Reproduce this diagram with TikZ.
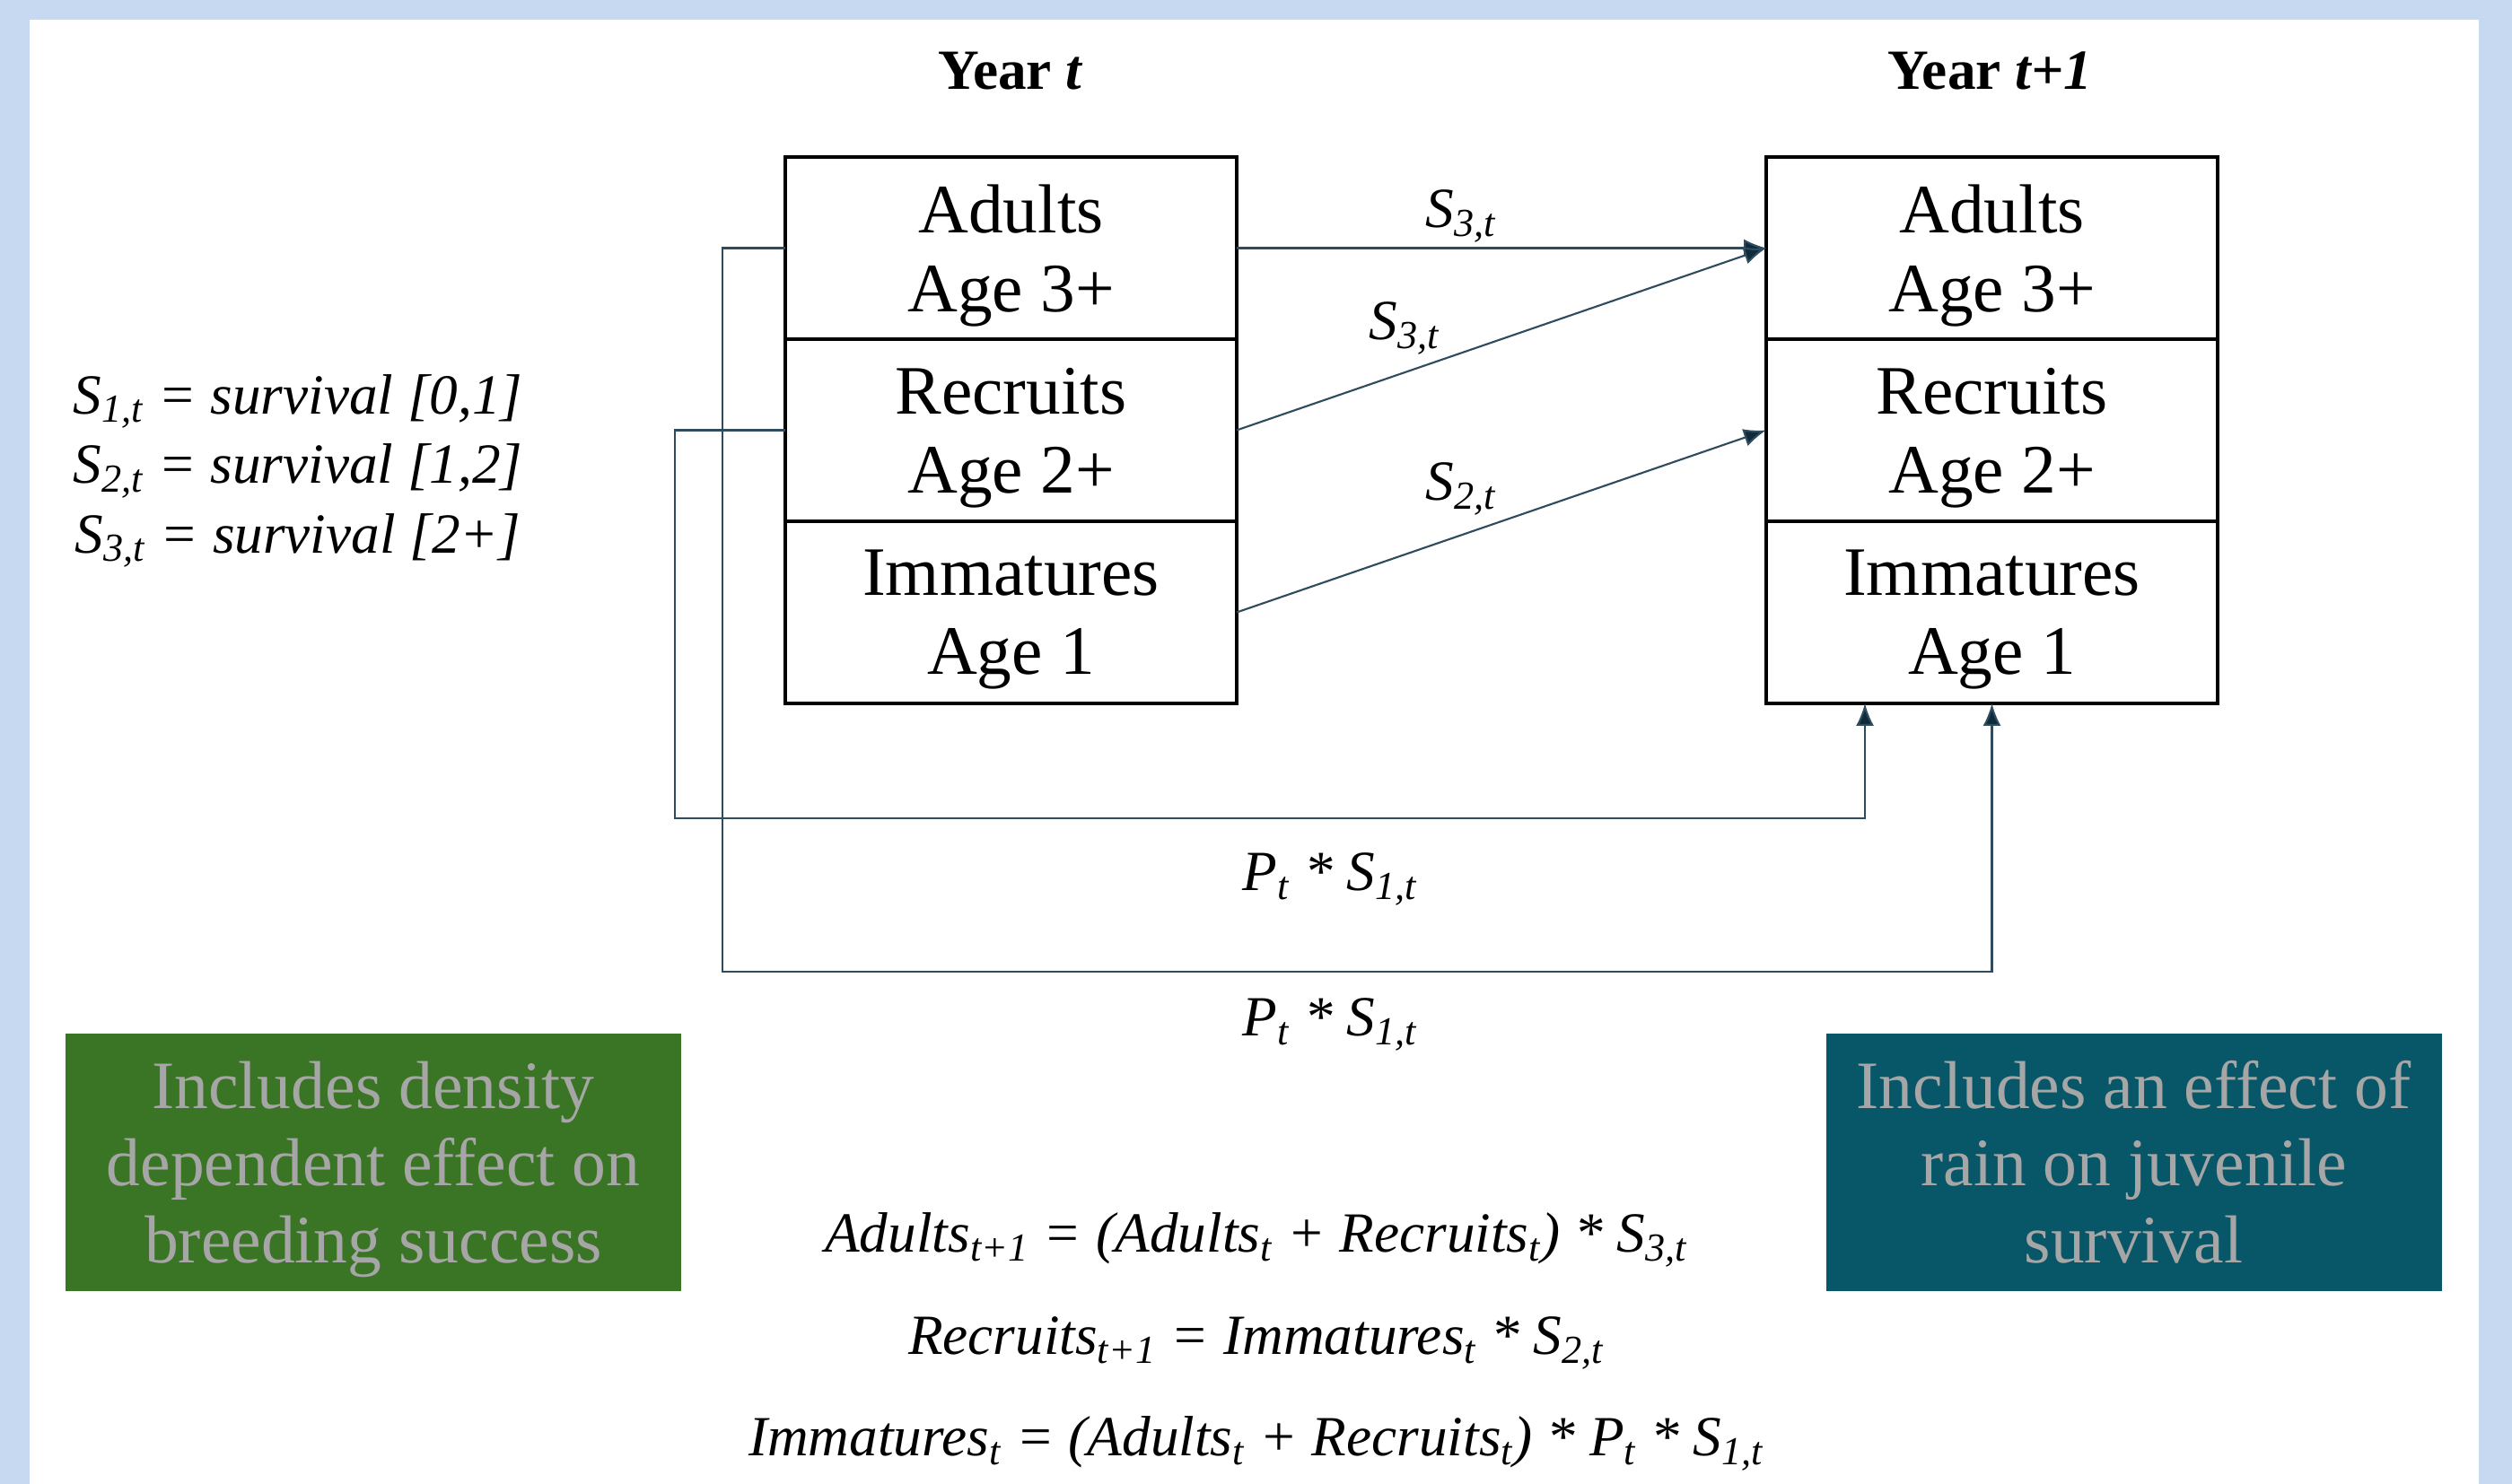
\documentclass[tikz,border=0pt]{standalone}
\usepackage{fontspec}
\setmainfont{Liberation Serif}
\usepackage{tikz}
\usetikzlibrary{arrows.meta, positioning}
\definecolor{FrameBlue}{HTML}{C6D9F0}
\definecolor{LinkBlue}{HTML}{2F4B5E}
\definecolor{TipBlue}{HTML}{0E2B3C}
\definecolor{DensGreen}{HTML}{3A7526}
\definecolor{RainTeal}{HTML}{075769}
\definecolor{NoteGrey}{HTML}{A6A6A6}
\tikzstyle{stage} = [rectangle, draw=black, line width=1.1pt, minimum width=5.03cm,
minimum height=2.03cm, inner sep=0pt, outer sep=0pt, align=center,
font=\fontsize{22}{25}\selectfont]
\tikzstyle{link} = [draw=LinkBlue, line width=0.6pt,
-{Latex[length=2.5mm,width=2mm,fill=TipBlue]}]
\tikzstyle{note} = [rectangle, minimum width=6.86cm, minimum height=2.87cm,
align=center, text=NoteGrey, font=\fontsize{21.5}{24.5}\selectfont]
\tikzstyle{formula} = [align=center, font=\fontsize{18}{22}\selectfont\itshape]

\begin{document}
\begin{tikzpicture}
   \useasboundingbox (0,0) rectangle (27.99,16.54);
   \fill[FrameBlue] (0,0) rectangle (27.99,16.54);
   \fill[white] (0.33,0) rectangle (27.62,16.32);
   % year t
   \node[font=\fontsize{18}{21}\selectfont\bfseries] (yeart) at (11.26,15.75) {Year \textit{t}};
   \node[stage] (adults) at (11.265,13.775) {Adults \\ \smash{Age 3+}};
   \node[stage,below=0pt of adults] (recruits) {Recruits \\ \smash{Age 2+}};
   \node[stage,below=0pt of recruits] (immatures) {Immatures \\ \smash{Age 1}};
   % year t+1
   \node[font=\fontsize{18}{21}\selectfont\bfseries] (yearnext) at (22.17,15.75) {Year \textit{t+1}};
   \node[stage] (adultsnext) at (22.195,13.775) {Adults \\ \smash{Age 3+}};
   \node[stage,below=0pt of adultsnext] (recruitsnext) {Recruits \\ \smash{Age 2+}};
   \node[stage,below=0pt of recruitsnext] (immaturesnext) {Immatures \\ \smash{Age 1}};
   % survival links
   \draw[link] (adults.east) -- (adultsnext.west);
   \draw[link] (recruits.east) -- (adultsnext.west);
   \draw[link] (immatures.east) -- (recruitsnext.west);
   \node[formula] (surva) at (16.28,14.13) {S\textsubscript{3,t}};
   \node[formula] (survr) at (15.65,12.88) {S\textsubscript{3,t}};
   \node[formula] (survi) at (16.28,11.09) {S\textsubscript{2,t}};
   % breeding loops
   \coordinate (loopa) at (8.05,5.71);
   \coordinate (loopr) at (7.52,7.42);
   \coordinate (feedr) at (20.78,7.42);
   \draw[link] (adults.west) -| (loopa) -- (loopa -| immaturesnext.south) -- (immaturesnext.south);
   \draw[link] (recruits.west) -| (loopr) -- (feedr) -- (feedr |- immaturesnext.south);
   \node[formula] (breedr) at (14.82,6.74) {P\textsubscript{t} * S\textsubscript{1,t}};
   \node[formula] (breeda) at (14.82,5.12) {P\textsubscript{t} * S\textsubscript{1,t}};
   % legend
   \node[formula] (legend) at (3.32,11.29) {S\textsubscript{1,t} = survival [0,1] \\
    S\textsubscript{2,t} = survival [1,2] \\ S\textsubscript{3,t} = survival [2+]};
   % covariates
   \node[note,fill=DensGreen] (density) at (4.16,3.585) {Includes density \\ dependent effect on \\ \smash{breeding success}};
   \node[note,fill=RainTeal] (rain) at (23.775,3.585) {Includes an effect of \\ rain on juvenile \\ survival};
   % equations
   \node[formula] (eqadults) at (14.0,2.72) {Adults\textsubscript{t+1} = (Adults\textsubscript{t} + Recruits\textsubscript{t}) * S\textsubscript{3,t}};
   \node[formula] (eqrecruits) at (14.0,1.57) {Recruits\textsubscript{t+1} = Immatures\textsubscript{t} * S\textsubscript{2,t}};
   \node[formula] (eqimm) at (14.0,0.45) {Immatures\textsubscript{t} = (Adults\textsubscript{t} + Recruits\textsubscript{t}) * P\textsubscript{t} * S\textsubscript{1,t}};
  \end{tikzpicture}
\end{document}
